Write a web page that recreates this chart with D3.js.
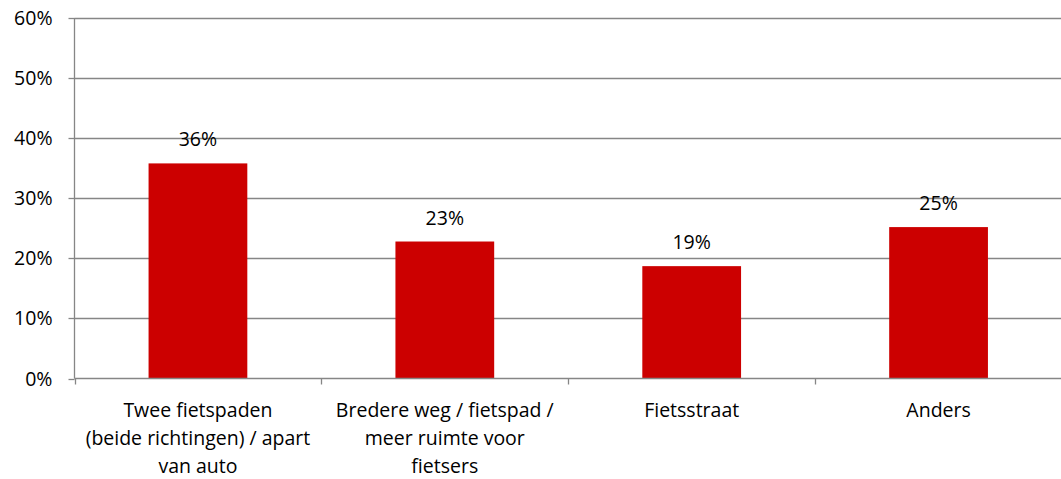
<!DOCTYPE html>
<html><head><meta charset="utf-8">
<script src="https://cdn.jsdelivr.net/npm/d3@7"></script>
<style>
html,body{margin:0;padding:0;background:#fff;}
svg{display:block;}
text{font-family:"Open Sans","Noto Sans",sans-serif;fill:#000;}
</style></head>
<body><svg id="c" width="1061" height="479"></svg>
<script>
const categories = ["Twee fietspaden (beide richtingen) / apart van auto",
  "Bredere weg / fietspad / meer ruimte voor fietsers",
  "Fietsstraat", "Anders"];
const categoryLines = [
  ["Twee fietspaden", "(beide richtingen) / apart", "van auto"],
  ["Bredere weg / fietspad /", "meer ruimte voor", "fietsers"],
  ["Fietsstraat"],
  ["Anders"]
];
const values = [0.358, 0.228, 0.187, 0.252];
const valueLabels = ["36%", "23%", "19%", "25%"];
const yTicks = [0, 0.1, 0.2, 0.3, 0.4, 0.5, 0.6];

const svg = d3.select("#c");
const fs = "19.5px";
const mLeft = 74.5, mRight = 1062, mTop = 18, mBottom = 378.5;
const x = d3.scaleBand().domain(categories).range([mLeft, mRight]).paddingInner(0.6).paddingOuter(0.3);
const xb = d3.scaleBand().domain(categories).range([mLeft, mRight]);
const y = d3.scaleLinear().domain([0, 0.6]).range([mBottom, mTop]);

// gridlines
svg.append("g").selectAll("line").data(yTicks.filter(d => d > 0)).join("line")
  .attr("x1", mLeft).attr("x2", mRight)
  .attr("y1", d => Math.round(y(d)) + 0.5).attr("y2", d => Math.round(y(d)) + 0.5)
  .attr("stroke", "#868686").attr("stroke-width", 1.3);

// bars
svg.append("g").selectAll("rect").data(values).join("rect")
  .attr("x", (d, i) => x(categories[i]))
  .attr("width", x.bandwidth())
  .attr("y", d => y(d))
  .attr("height", d => y(0) - y(d))
  .attr("fill", "#CC0000");

// y axis
const yAxis = svg.append("g").attr("transform", `translate(${mLeft},0)`)
  .call(d3.axisLeft(y).tickValues(yTicks).tickFormat(d3.format(".0%")).tickSize(6).tickPadding(16));
yAxis.select(".domain").attr("stroke", "#868686").attr("stroke-width", 1.3).attr("d", `M0,${mTop}V${mBottom}`);
yAxis.selectAll(".tick line").attr("stroke", "#868686").attr("stroke-width", 1.3);
yAxis.selectAll(".tick text").style("font-size", fs).attr("fill", "#000");
yAxis.selectAll(".tick").attr("transform", d => `translate(0,${Math.round(y(d)) + 0.5})`);

// x axis
const xAxisG = svg.append("g").attr("transform", `translate(0,${mBottom})`);
xAxisG.append("line").attr("x1", mLeft).attr("x2", mRight).attr("y1", 0).attr("y2", 0)
  .attr("stroke", "#868686").attr("stroke-width", 1.3);
const tickXs = categories.map(c => xb(c)).concat([xb(categories[categories.length - 1]) + xb.bandwidth()]);
xAxisG.selectAll("line.t").data(tickXs).join("line").attr("class", "t")
  .attr("x1", d => Math.round(d) + 0.5).attr("x2", d => Math.round(d) + 0.5)
  .attr("y1", 0).attr("y2", 6).attr("stroke", "#868686").attr("stroke-width", 1.3);

// category labels
const lab = svg.append("g").selectAll("text").data(categoryLines).join("text")
  .attr("text-anchor", "middle")
  .style("font-size", fs)
  .attr("x", (d, i) => xb(categories[i]) + xb.bandwidth() / 2);
lab.selectAll("tspan").data(d => d).join("tspan")
  .attr("x", function () { return d3.select(this.parentNode).attr("x"); })
  .attr("y", (d, j) => 417 + j * 28)
  .text(d => d);

// value labels
svg.append("g").selectAll("text.v").data(values).join("text").attr("class", "v")
  .attr("text-anchor", "middle").style("font-size", fs)
  .attr("x", (d, i) => x(categories[i]) + x.bandwidth() / 2)
  .attr("y", d => y(d) - 17)
  .text((d, i) => valueLabels[i]);
</script></body></html>
